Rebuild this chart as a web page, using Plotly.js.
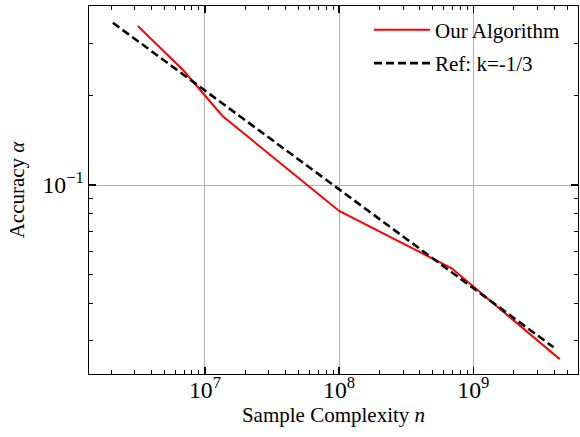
<!DOCTYPE html>
<html>
<head>
<meta charset="utf-8">
<script src="https://cdn.plot.ly/plotly-3.0.1.min.js"></script>
<style>html,body{margin:0;padding:0;background:#fff;}#chart{width:580px;height:437px;}</style>
</head>
<body>
<div id="chart"></div>
<script>
// Our Algorithm
const algoN = [3.16e6, 6.9e6, 1.35e7, 3.0e7, 1.0e8, 6.9e8, 4.4e9];
const algoAcc = [0.342, 0.243, 0.1706, 0.127, 0.0818, 0.0525, 0.026];
// Reference line, slope k = -1/3
const refN = [2.06e6, 3.96e9];
const refAcc = [0.351, 0.0285];

const serif = "Liberation Serif, Times New Roman, serif";

const traces = [
  {x: algoN, y: algoAcc, mode: 'lines', name: 'Our Algorithm',
   line: {color: '#ff0000', width: 2}, legendgroup: 'a'},
  {x: refN, y: refAcc, mode: 'lines', name: 'Ref: k=-1/3',
   line: {color: '#000000', width: 2.6, dash: '8px,4px'}, legendgroup: 'b'}
];

const axisCommon = {
  type: 'log', showline: true, linecolor: '#000', linewidth: 1.3, mirror: 'ticks',
  ticks: 'inside', ticklen: 7, tickwidth: 1.3, tickcolor: '#000',
  showgrid: true, gridcolor: '#b0b0b0', gridwidth: 1, zeroline: false,
  dtick: 1, exponentformat: 'power',
  tickfont: {family: serif, size: 19, color: '#000'},
  minor: {ticks: 'inside', ticklen: 4, tickwidth: 1, tickcolor: '#000', showgrid: false, dtick: 'D1'}
};

const layout = {
  width: 580, height: 437,
  margin: {l: 89, r: 2, t: 6, b: 63},
  paper_bgcolor: '#fff', plot_bgcolor: '#fff',
  font: {family: serif, color: '#000'},
  showlegend: true,
  legend: {x: 0.5726, y: 0.99, xanchor: 'left', yanchor: 'top', bgcolor: 'rgba(0,0,0,0)',
           font: {family: serif, size: 21, color: '#000'}, tracegroupgap: 3, itemwidth: 56},
  xaxis: Object.assign({}, axisCommon, {
    range: [6.136, 9.78], ticklabelstandoff: -5,
    title: {text: 'Sample Complexity <i>n</i>', font: {family: serif, size: 21, color: '#000'}, standoff: 4}
  }),
  yaxis: Object.assign({}, axisCommon, {
    range: [-1.635, -0.3985],
    title: {text: 'Accuracy <i>α</i>', font: {family: serif, size: 21, color: '#000'}, standoff: 12}
  })
};

Plotly.newPlot('chart', traces, layout, {displayModeBar: false, staticPlot: true});
</script>
</body>
</html>
